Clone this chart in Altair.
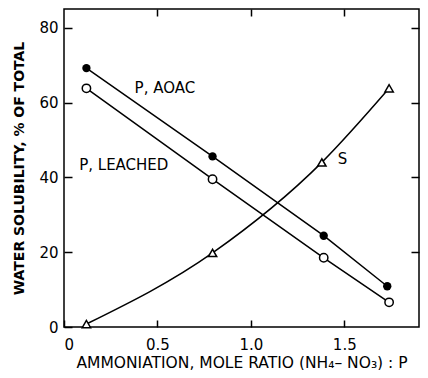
import altair as alt
import pandas as pd

# data
aoac_x = [0.12, 0.795, 1.39, 1.73]
aoac_y = [69.2, 45.6, 24.4, 10.9]
leach_x = [0.12, 0.795, 1.39, 1.74]
leach_y = [63.8, 39.5, 18.5, 6.6]
s_x = [0.12, 0.795, 1.38, 1.74]
s_y = [0.8, 19.8, 44.0, 63.8]

label_text = ["P, AOAC", "P, LEACHED", "S"]
label_x = [0.54, 0.32, 1.49]
label_y = [63.8, 43.2, 45.0]

x_ticks = [0, 0.5, 1.0, 1.5]
y_ticks = [0, 20, 40, 60, 80]

aoac = pd.DataFrame({"x": aoac_x, "y": aoac_y})
leach = pd.DataFrame({"x": leach_x, "y": leach_y})
sdf = pd.DataFrame({"x": s_x, "y": s_y})
labels = pd.DataFrame({"x": label_x, "y": label_y, "t": label_text})

FONT = "DejaVu Sans"
xs = alt.Scale(domain=[0, 1.9], nice=False, zero=False)
ys = alt.Scale(domain=[0, 85], nice=False)

x_main = alt.X(
    "x:Q", scale=xs,
    axis=alt.Axis(
        title="AMMONIATION, MOLE RATIO (NH₄– NO₃) : P",
        values=x_ticks,
        labelExpr="datum.value == 0 ? '0' : format(datum.value, '.1f')",
        offset=-7, tickSize=7, domain=False, grid=False,
        labelPadding=10, labelFontSize=15, titleFontSize=15.5,
        titlePadding=3, tickColor="black", tickWidth=1.5,
        labelColor="black", titleColor="black",
        labelFont=FONT, titleFont=FONT, titleFontWeight="normal",
    ),
)
y_main = alt.Y(
    "y:Q", scale=ys,
    axis=alt.Axis(
        title="WATER SOLUBILITY, % OF TOTAL",
        values=y_ticks,
        offset=-8, tickSize=8, domain=False, grid=False,
        labelPadding=6, labelFontSize=15, titleFontSize=14,
        titlePadding=12, tickColor="black", tickWidth=1.5,
        labelColor="black", titleColor="black",
        labelFont=FONT, titleFont=FONT, titleFontWeight="bold",
    ),
)
x_none = alt.X("x:Q", scale=xs, axis=None)
y_none = alt.Y("y:Q", scale=ys, axis=None)

x_top = alt.X(
    "x:Q", scale=xs,
    axis=alt.Axis(orient="top", values=[0.5, 1.0, 1.5], offset=-7, tickSize=7,
                  labels=False, domain=False, grid=False, title=None,
                  tickColor="black", tickWidth=1.5),
)
y_right = alt.Y(
    "y:Q", scale=ys,
    axis=alt.Axis(orient="right", values=[20, 40, 60, 80], offset=-8, tickSize=8,
                  labels=False, domain=False, grid=False, title=None,
                  tickColor="black", tickWidth=1.5),
)

aoac_line = alt.Chart(aoac).mark_line(color="black", strokeWidth=1.5).encode(x=x_main, y=y_main)
aoac_pts = alt.Chart(aoac).mark_point(shape="circle", filled=True, color="black", size=70, opacity=1).encode(x=x_none, y=y_none)

leach_line = alt.Chart(leach).mark_line(color="black", strokeWidth=1.5).encode(x=x_none, y=y_none)
leach_pts = alt.Chart(leach).mark_point(shape="circle", fill="white", stroke="black", strokeWidth=1.5, size=70, opacity=1, fillOpacity=1).encode(x=x_none, y=y_none)

s_line = alt.Chart(sdf).mark_line(color="black", strokeWidth=1.5, interpolate="monotone").encode(x=x_none, y=y_none)
s_pts = alt.Chart(sdf).mark_point(shape="triangle-up", fill="white", stroke="black", strokeWidth=1.5, size=70, opacity=1, fillOpacity=1).encode(x=x_top, y=y_right)

texts = alt.Chart(labels).mark_text(font=FONT, fontSize=15, color="black", align="center", baseline="middle").encode(
    x=x_none, y=y_none, text="t:N")

chart = alt.layer(
    aoac_line, leach_line, s_line, aoac_pts, leach_pts, s_pts, texts
).resolve_axis(x="independent", y="independent").properties(
    width=355, height=318,
    autosize=alt.AutoSizeParams(type="none"),
    padding={"left": 56, "top": 1, "right": 1, "bottom": 43},
).configure_view(stroke="black", strokeWidth=1.5)

chart.save("out.html", embed_options={"renderer": "svg", "actions": False})
